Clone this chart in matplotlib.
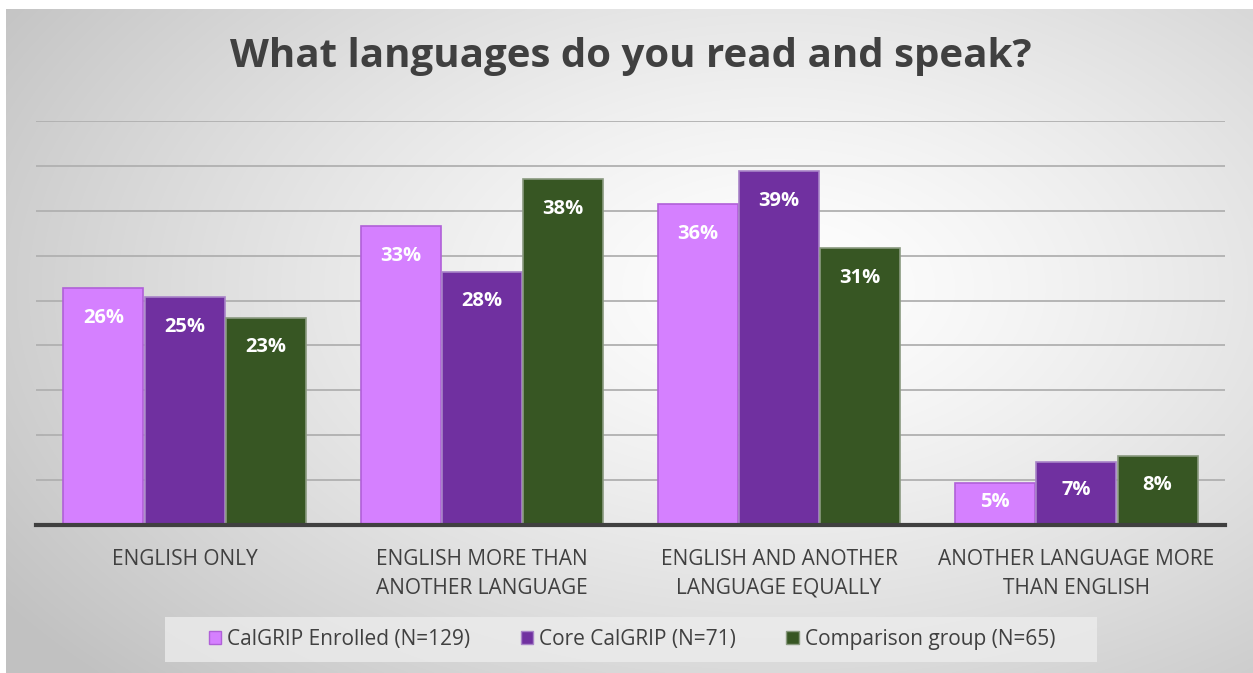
import numpy as np
import matplotlib
matplotlib.use("Agg")
import matplotlib.pyplot as plt
from matplotlib.patches import Patch, Rectangle

categories = ["ENGLISH ONLY", "ENGLISH MORE THAN\nANOTHER LANGUAGE",
              "ENGLISH AND ANOTHER\nLANGUAGE EQUALLY", "ANOTHER LANGUAGE MORE\nTHAN ENGLISH"]
series_names = ["CalGRIP Enrolled (N=129)", "Core CalGRIP (N=71)", "Comparison group (N=65)"]
enrolled = [26.4, 33.3, 35.7, 4.7]
core = [25.4, 28.2, 39.4, 7.0]
comparison = [23.1, 38.5, 30.8, 7.7]
title = "What languages do you read and speak?"

colors = ["#D580FF", "#7030A0", "#375623"]
edges = ["#B060D8", "#A883C8", "#8A9A80"]

W, H = 1253, 673
fig = plt.figure(figsize=(W / 100, H / 100), dpi=100)
fig.patch.set_facecolor("white")
plt.rcParams['font.family'] = ['Open Sans', 'DejaVu Sans']

# background radial gradient
bg = fig.add_axes([6 / W, 0, 1 - 6 / W, 1 - 9 / H], zorder=-10)
ny, nx = 400, 740
yy, xx = np.mgrid[0:1:ny * 1j, 0:1:nx * 1j]
d = np.sqrt(((xx - 0.62) / 0.75) ** 2 + ((yy - 0.42) / 0.85) ** 2)
d = np.clip(d, 0, 1)
val = 1 - 0.24 * d ** 1.3
img = np.dstack([val, val, val])
bg.imshow(img, extent=[0, 1, 1, 0], aspect="auto", interpolation="bilinear")
bg.set_xlim(0, 1)
bg.set_ylim(1, 0)
bg.axis("off")

ax = fig.add_axes([36 / W, 1 - 525 / H, 1189 / W, 404 / H])
ax.patch.set_alpha(0)
x = np.arange(len(categories))
bw = 0.273
for i, (vals, c, e) in enumerate(zip([enrolled, core, comparison], colors, edges)):
    pos = x + (i - 1) * bw
    ax.bar(pos, vals, width=bw - 0.004, color=c, edgecolor=e, linewidth=1.2, zorder=3)
    for xp, v in zip(pos, vals):
        ly = max(v - 3.3, 0.55 * v)
        ax.text(xp, ly, f"{v:.0f}%", ha="center", va="center", color="white",
                fontsize=14.5, fontweight="bold", zorder=4)

ax.set_xlim(-0.5, 3.5)
ax.set_ylim(0, 45)
ax.set_yticks(np.arange(5, 46, 5))
ax.yaxis.grid(True, color="#b0b0b0", linewidth=1.3, zorder=1)
ax.set_yticklabels([])
ax.tick_params(axis="y", length=0)
ax.set_xticks(x)
ax.set_xticklabels(categories, fontsize=15, color="#404040", linespacing=1.45)
ax.tick_params(axis="x", length=0, pad=17.5)
for s in ["top", "right", "left"]:
    ax.spines[s].set_visible(False)
ax.spines["bottom"].set_color("#404040")
ax.spines["bottom"].set_linewidth(3)
ax.spines["bottom"].set_zorder(5)

fig.text(631 / W, 1 - 57 / H, title, ha="center", va="center", fontsize=29,
         fontweight="bold", color="#404040")

# legend
fig.patches.append(Rectangle((165 / W, 1 - 662 / H), (1097 - 165) / W, 45 / H,
                             transform=fig.transFigure, facecolor="#ececec",
                             edgecolor="none", alpha=0.8, zorder=0))
handles = [Patch(facecolor=c, edgecolor=e, linewidth=1) for c, e in zip(colors, edges)]
leg = fig.legend(handles, series_names, loc="center", bbox_to_anchor=(632 / W, 1 - 639.5 / H),
                 ncol=3, frameon=False, fontsize=15, handlelength=0.6, handleheight=0.6,
                 handletextpad=0.3, columnspacing=2.4, labelcolor="#404040")

fig.savefig("out.png", dpi=100)
